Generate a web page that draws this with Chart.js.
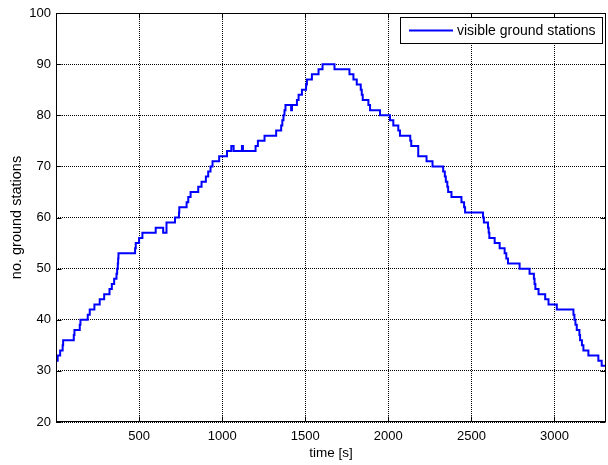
<!DOCTYPE html>
<html>
<head>
<meta charset="utf-8">
<script src="https://cdn.jsdelivr.net/npm/chart.js@4/dist/chart.umd.min.js"></script>
<style>
html,body{margin:0;padding:0;background:#fff;}
canvas{display:block;}
</style>
</head>
<body>
<canvas id="c" width="608" height="465"></canvas>
<script>
// time [s] at which the count changes
const times = [0,10,25,40,43,107,111,143,147,191,203,231,263,290,322,336,350,364,368,372,374,376,
  476,480,500,520,600,645,665,716,740,742,786,796,810,856,876,902,916,930,942,982,1029,
  1055,1069,1119,1125,1201,1215,1255,1325,1355,1362,1369,1375,1381,1415,1420,1450,1460,1480,
  1505,1510,1540,1580,1604,1676,1766,1790,1810,1834,1840,1846,1880,1890,1950,2010,2030,2060,
  2070,2132,2138,2180,2230,2266,2330,2340,2346,2355,2360,2380,2440,2456,2462,2570,2575,2600,
  2604,2608,2640,2670,2700,2710,2720,2790,2850,2876,2880,2885,2904,2944,2964,3014,3114,3120,
  3126,3134,3150,3154,3165,3174,3204,3264,3284,3310];
// number of visible ground stations from that time on
const stations = [32,33,34,35,36,37,38,39,40,41,42,43,44,45,46,47,48,49,50,51,52,53,
  54,55,56,57,58,57,59,60,61,62,63,64,65,66,67,68,69,70,71,72,73,
  74,73,74,73,74,75,76,77,78,79,80,81,82,81,82,83,84,85,
  86,87,88,89,90,89,88,87,86,85,84,83,82,81,80,79,78,77,
  76,75,74,72,71,70,69,68,67,66,65,64,63,62,61,60,59,58,
  57,56,55,54,53,52,51,50,49,48,47,46,45,44,43,42,41,40,
  39,38,37,36,35,34,33,32,31,31];
const xTicks = [500,1000,1500,2000,2500,3000];
const yTicks = [20,30,40,50,60,70,80,90,100];
const seriesName = 'visible ground stations';
const xTitle = 'time [s]';
const yTitle = 'no. ground stations';

const FONT = 'Liberation Sans, Arial, sans-serif';

const framePlugin = {
  id: 'frame',
  afterDraw(chart) {
    const {ctx, chartArea: a, scales} = chart;
    ctx.save();
    ctx.strokeStyle = '#000';
    ctx.lineWidth = 1;
    const L = Math.round(a.left) + 0.5, R = Math.round(a.right) - 0.5;
    const T = Math.round(a.top) + 0.5, B = Math.round(a.bottom) - 0.5;
    ctx.beginPath();
    xTicks.forEach(v => {
      const x = Math.round(scales.x.getPixelForValue(v)) + 0.5;
      ctx.moveTo(x, B); ctx.lineTo(x, B - 5);
      ctx.moveTo(x, T); ctx.lineTo(x, T + 5);
    });
    yTicks.forEach(v => {
      const y = Math.round(scales.y.getPixelForValue(v)) + 0.5;
      ctx.moveTo(L, y); ctx.lineTo(L + 5, y);
      ctx.moveTo(R, y); ctx.lineTo(R - 5, y);
    });
    ctx.stroke();
    ctx.strokeRect(L, T, R - L, B - T);
    // legend box
    const ds = chart.data.datasets[0];
    const bx = 400.5, by = 17.5, bw = 202, bh = 26;
    ctx.fillStyle = '#fff';
    ctx.fillRect(bx, by, bw, bh);
    ctx.strokeRect(bx, by, bw, bh);
    ctx.strokeStyle = ds.borderColor;
    ctx.lineWidth = 2;
    ctx.beginPath();
    ctx.moveTo(409, by + bh / 2); ctx.lineTo(453, by + bh / 2);
    ctx.stroke();
    ctx.fillStyle = '#000';
    ctx.font = '14px ' + FONT;
    ctx.textBaseline = 'middle';
    ctx.textAlign = 'left';
    ctx.fillText(ds.label, 457, by + bh / 2 + 1);
    ctx.restore();
  }
};

new Chart(document.getElementById('c'), {
  type: 'line',
  data: {
    datasets: [{
      label: seriesName,
      data: times.map((t, i) => ({x: t, y: stations[i]})),
      borderColor: '#0000ff',
      borderWidth: 2,
      pointRadius: 0,
      stepped: true,
      fill: false
    }]
  },
  options: {
    responsive: false,
    animation: false,
    devicePixelRatio: 1,
    layout: {padding: {top: 13, right: 2, left: 0, bottom: 0}},
    plugins: {legend: {display: false}, tooltip: {enabled: false}},
    scales: {
      x: {
        type: 'linear', min: 0, max: 3310,
        afterBuildTicks: s => { s.ticks = xTicks.map(v => ({value: v})); },
        afterFit: s => { s.height = 43; },
        grid: {color: '#000', drawTicks: false, lineWidth: 1},
        border: {display: false, dash: [1, 1]},
        ticks: {color: '#000', font: {family: FONT, size: 13}, padding: 7, maxRotation: 0, callback: v => String(v)},
        title: {display: true, text: xTitle, color: '#000', font: {family: FONT, size: 13.5}, padding: {top: 0, bottom: 4}}
      },
      y: {
        min: 20, max: 100,
        afterBuildTicks: s => { s.ticks = yTicks.map(v => ({value: v})); },
        afterFit: s => { s.width = 56; },
        grid: {color: '#000', drawTicks: false, lineWidth: 1},
        border: {display: false, dash: [1, 1]},
        ticks: {color: '#000', font: {family: FONT, size: 13}, padding: 5, callback: v => String(v)},
        title: {display: true, text: yTitle, color: '#000', font: {family: FONT, size: 14.5}, padding: {top: 8, bottom: 0}}
      }
    }
  },
  plugins: [framePlugin]
});
</script>
</body>
</html>
